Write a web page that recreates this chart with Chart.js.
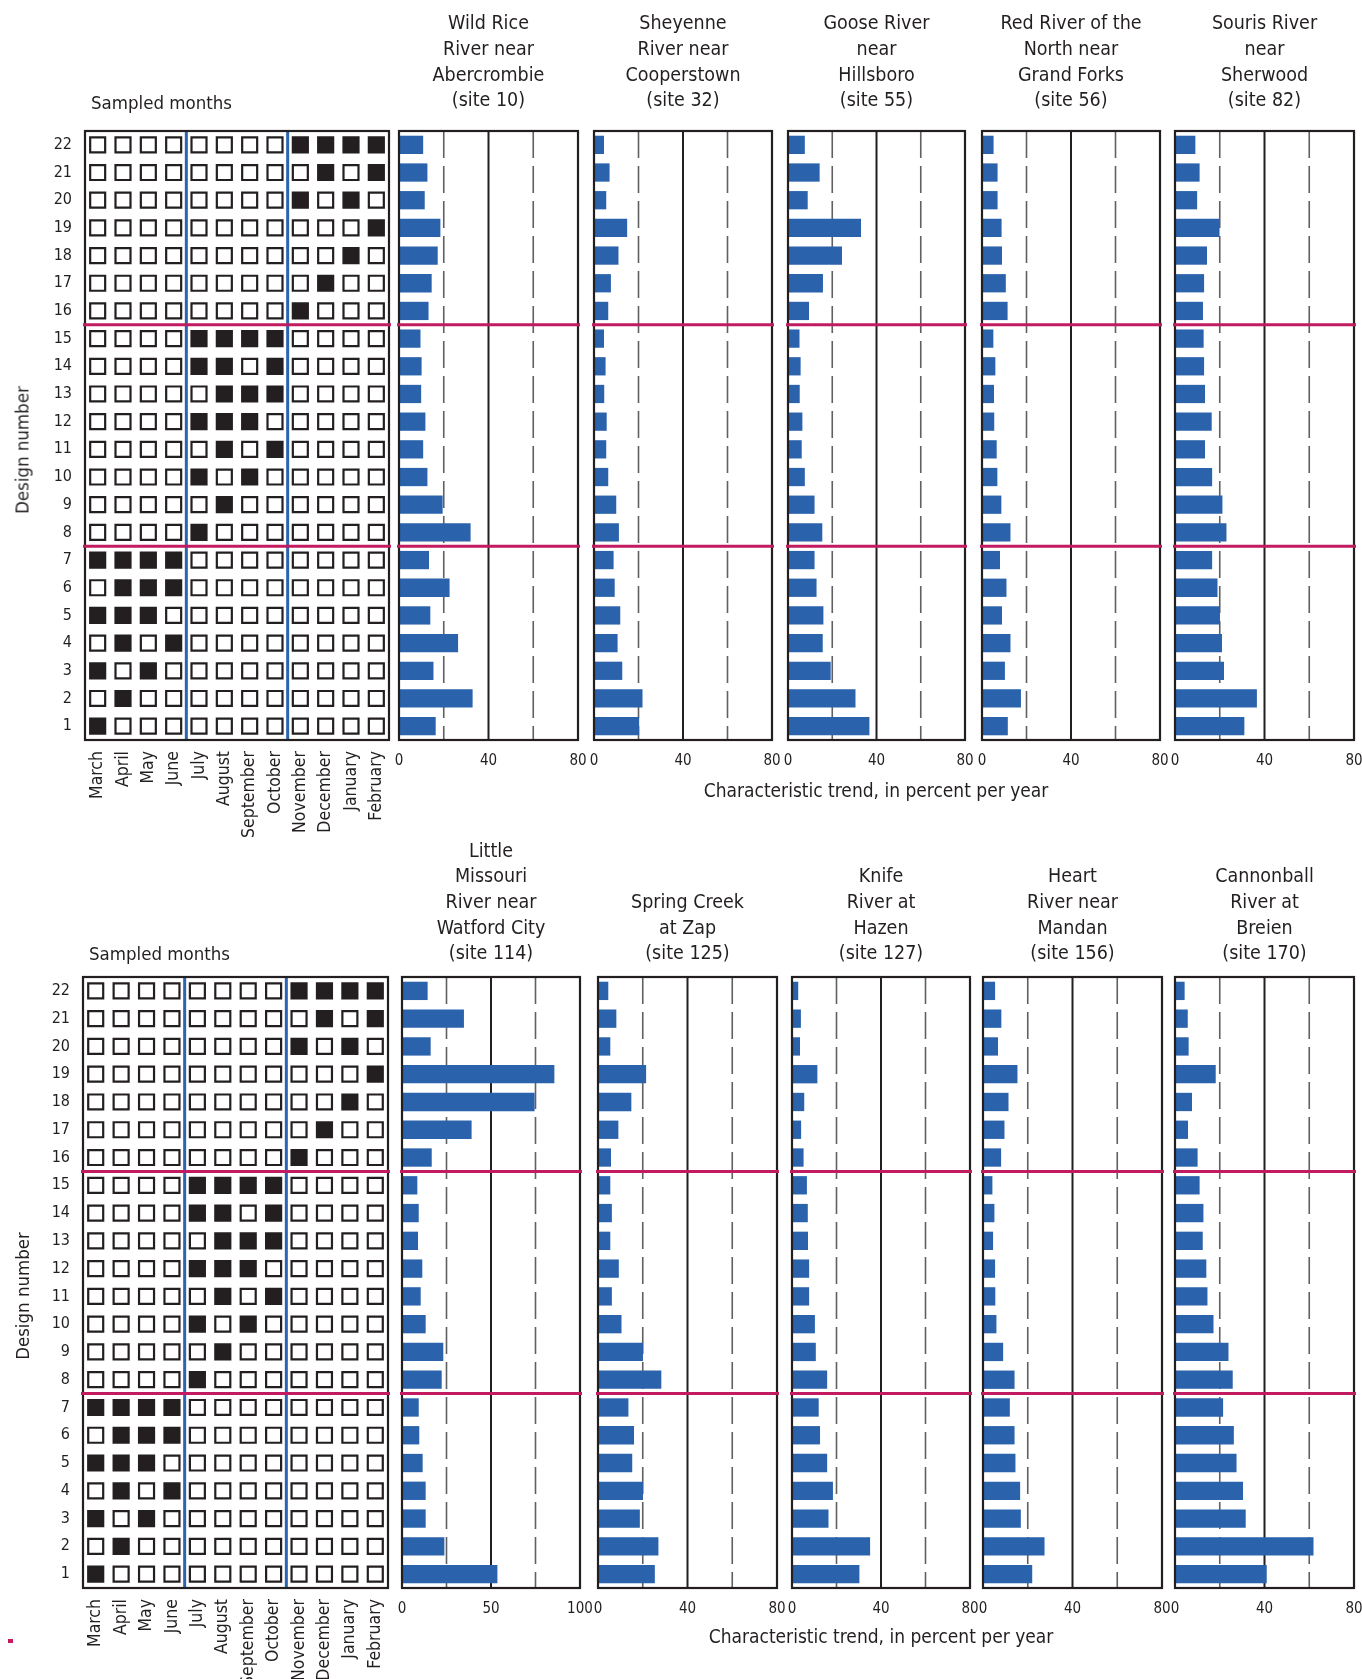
<!DOCTYPE html>
<html lang="en">
<head>
<meta charset="utf-8">
<title>Characteristic trend by sampling design</title>
<script src="https://cdn.jsdelivr.net/npm/chart.js@4.4.1/dist/chart.umd.min.js"></script>
<style>
  html, body { margin: 0; padding: 0; background: #fff; }
  body { position: relative; width: 1362px; height: 1679px; overflow: hidden;
         font-family: 'DejaVu Sans Condensed', 'Liberation Sans', sans-serif; color: #231f20; }
  canvas { position: absolute; }
  .lbl { position: absolute; white-space: nowrap; font-size: 19px; }
  .title { text-align: center; line-height: 25.6px; font-size: 19.5px; transform: translateX(-50%); }
  .mid { transform: translate(-50%, -50%); }
  .vert { font-size: 18.5px; transform: translate(-50%, -50%) rotate(-90deg); }
  .sampled { font-size: 18.5px; transform: translateY(-50%); }
  .tick { position: absolute; background: #c21b5f; }
</style>
</head>
<body>
<script>
const FONT = "'DejaVu Sans Condensed', 'Liberation Sans', sans-serif";
const INK = '#231f20';
const BAR_BLUE = '#2a62ac';
const SEASON_BLUE = '#2b64b0';
const RULE_RED = '#c21b5f';
const DASH_GREY = '#5f6062';

// Months of the sampling year
const months = ['March', 'April', 'May', 'June', 'July', 'August', 'September',
                'October', 'November', 'December', 'January', 'February'];

// Design numbers, top row first
const designs = ['22', '21', '20', '19', '18', '17', '16', '15', '14', '13', '12',
                 '11', '10', '9', '8', '7', '6', '5', '4', '3', '2', '1'];

// Months sampled under each design (design 1 first)
const sampledMonths = [
  ['March'],
  ['April'],
  ['March', 'May'],
  ['April', 'June'],
  ['March', 'April', 'May'],
  ['April', 'May', 'June'],
  ['March', 'April', 'May', 'June'],
  ['July'],
  ['August'],
  ['July', 'September'],
  ['August', 'October'],
  ['July', 'August', 'September'],
  ['August', 'September', 'October'],
  ['July', 'August', 'October'],
  ['July', 'August', 'September', 'October'],
  ['November'],
  ['December'],
  ['January'],
  ['February'],
  ['November', 'January'],
  ['December', 'February'],
  ['November', 'December', 'January', 'February']
];

// Red rules between design groups, blue rules between seasons
const groupBreaks = [['16', '15'], ['8', '7']];
const seasonBreaks = [['June', 'July'], ['October', 'November']];

// Labelled x-axis ticks
const ticks80 = [0, 40, 80];
const ticks100 = [0, 50, 100];

// Characteristic trend, in percent per year (design 1 first)
const trend10  = [16.4, 32.9, 15.4, 26.4, 14.0, 22.6, 13.4, 32.0, 19.5, 12.7, 10.8, 11.8, 9.9, 10.1, 9.6, 13.2, 14.6, 17.3, 18.5, 11.5, 12.7, 10.8];
const trend32  = [20.3, 21.8, 12.7, 10.6, 11.8, 9.3, 8.8, 11.2, 10.0, 6.4, 5.5, 5.7, 4.6, 5.2, 4.5, 6.4, 7.6, 11.0, 14.9, 5.5, 7.0, 4.5];
const trend55  = [36.8, 30.5, 19.3, 15.7, 16.0, 12.9, 12.0, 15.5, 12.0, 7.6, 6.2, 6.5, 5.3, 5.7, 5.2, 9.5, 15.8, 24.4, 33.0, 8.9, 14.3, 7.6];
const trend56  = [11.6, 17.5, 10.3, 12.8, 9.0, 11.0, 8.1, 12.8, 8.7, 6.9, 6.6, 5.5, 5.4, 6.0, 5.1, 11.5, 10.7, 9.0, 8.8, 7.0, 7.0, 5.2];
const trend82  = [31.0, 36.6, 21.9, 21.0, 20.1, 19.0, 16.6, 23.0, 21.2, 16.6, 13.4, 16.4, 13.4, 13.0, 12.8, 12.5, 13.0, 14.3, 19.9, 9.9, 11.0, 9.1];
const trend114 = [53.6, 23.8, 13.3, 13.3, 11.6, 9.7, 9.4, 22.3, 23.2, 13.3, 10.5, 11.4, 9.0, 9.4, 8.6, 16.7, 39.1, 74.5, 85.6, 16.1, 34.8, 14.4];
const trend125 = [25.4, 27.0, 18.7, 20.1, 15.3, 16.1, 13.6, 28.3, 20.1, 10.5, 6.2, 9.3, 5.5, 6.2, 5.5, 5.8, 9.1, 14.9, 21.5, 5.5, 8.2, 4.6];
const trend127 = [30.3, 35.1, 16.4, 18.4, 15.8, 12.6, 12.0, 15.8, 10.7, 10.3, 7.7, 7.7, 7.2, 7.1, 6.7, 5.2, 4.1, 5.5, 11.4, 3.6, 4.0, 2.8];
const trend156 = [22.0, 27.5, 16.9, 16.6, 14.5, 14.1, 12.0, 14.1, 9.0, 6.0, 5.5, 5.4, 4.5, 5.1, 4.2, 8.1, 9.6, 11.4, 15.4, 6.7, 8.2, 5.4];
const trend170 = [41.0, 61.9, 31.6, 30.4, 27.5, 26.3, 21.5, 25.8, 23.9, 17.2, 14.5, 14.0, 12.4, 12.7, 11.0, 10.1, 5.8, 7.6, 18.2, 6.1, 5.7, 4.3];

// Station names
const name10  = ['Wild Rice', 'River near', 'Abercrombie', '(site 10)'];
const name32  = ['Sheyenne', 'River near', 'Cooperstown', '(site 32)'];
const name55  = ['Goose River', 'near', 'Hillsboro', '(site 55)'];
const name56  = ['Red River of the', 'North near', 'Grand Forks', '(site 56)'];
const name82  = ['Souris River', 'near', 'Sherwood', '(site 82)'];
const name114 = ['Little', 'Missouri', 'River near', 'Watford City', '(site 114)'];
const name125 = ['Spring Creek', 'at Zap', '(site 125)'];
const name127 = ['Knife', 'River at', 'Hazen', '(site 127)'];
const name156 = ['Heart', 'River near', 'Mandan', '(site 156)'];
const name170 = ['Cannonball', 'River at', 'Breien', '(site 170)'];

// Page layout of the two figure rows
const rows = [
  { top: 131, bottom: 740, grid: [85, 389],
    panels: [[399, 578], [594, 772], [788, 965], [982, 1160], [1175, 1354]],
    series: [trend10, trend32, trend55, trend56, trend82],
    names: [name10, name32, name55, name56, name82],
    ticks: [ticks80, ticks80, ticks80, ticks80, ticks80],
    titleY: 100, sampledY: 101.7, axisTitle: [876, 790], designY: 450 },
  { top: 977, bottom: 1588, grid: [83, 388],
    panels: [[402, 580], [598, 777], [792, 970], [983, 1162], [1175, 1354]],
    series: [trend114, trend125, trend127, trend156, trend170],
    names: [name114, name125, name127, name156, name170],
    ticks: [ticks100, ticks80, ticks80, ticks80, ticks80],
    titleY: 953, sampledY: 953.3, axisTitle: [881, 1636], designY: 1296 }
];

Chart.defaults.font.family = FONT;
Chart.defaults.color = INK;

function addCanvas(left, top, width, height) {
  const cv = document.createElement('canvas');
  cv.width = width; cv.height = height;
  cv.style.left = left + 'px'; cv.style.top = top + 'px';
  cv.style.width = width + 'px'; cv.style.height = height + 'px';
  document.body.appendChild(cv);
  return cv;
}

function addText(html, cls, left, top) {
  const d = document.createElement('div');
  d.className = 'lbl ' + cls;
  d.innerHTML = html;
  d.style.left = left + 'px';
  d.style.top = top + 'px';
  document.body.appendChild(d);
  return d;
}

// Horizontal red rules between the design groups
function drawGroupRules(chart) {
  const { ctx, chartArea: a, scales: { y } } = chart;
  ctx.save();
  ctx.strokeStyle = RULE_RED;
  ctx.lineWidth = 3;
  groupBreaks.forEach(([above, below]) => {
    const py = (y.getPixelForValue(designs.indexOf(above)) + y.getPixelForValue(designs.indexOf(below))) / 2;
    ctx.beginPath();
    ctx.moveTo(a.left - 2, py);
    ctx.lineTo(a.right + 2, py);
    ctx.stroke();
  });
  ctx.restore();
}

function drawFrame(chart) {
  const { ctx, chartArea: a } = chart;
  ctx.save();
  ctx.strokeStyle = INK;
  ctx.lineWidth = 2.2;
  ctx.strokeRect(a.left, a.top, a.right - a.left, a.bottom - a.top);
  ctx.restore();
}

// One bar panel: trend for each design at one site
function trendPanel(box, top, bottom, values, ticks) {
  const padL = 32, padR = 32, padT = 30, axisH = 42;
  const cv = addCanvas(box[0] - padL, top - padT,
                       (box[1] - box[0]) + padL + padR, (bottom - top) + padT + axisH);
  const decor = {
    id: 'trendDecor',
    beforeDatasetsDraw(chart) {
      const { ctx, chartArea: a, scales: { x } } = chart;
      ctx.save();
      ctx.strokeStyle = DASH_GREY;
      ctx.lineWidth = 1.6;
      ctx.setLineDash([27, 8]);
      for (let i = 0; i < ticks.length - 1; i++) {
        const px = x.getPixelForValue((ticks[i] + ticks[i + 1]) / 2);
        ctx.beginPath(); ctx.moveTo(px, a.top); ctx.lineTo(px, a.bottom); ctx.stroke();
      }
      ctx.setLineDash([]);
      ctx.strokeStyle = INK;
      ctx.lineWidth = 2;
      ticks.slice(1, -1).forEach(v => {
        const px = x.getPixelForValue(v);
        ctx.beginPath(); ctx.moveTo(px, a.top); ctx.lineTo(px, a.bottom); ctx.stroke();
      });
      ctx.restore();
    },
    afterDatasetsDraw(chart) {
      drawFrame(chart);
      drawGroupRules(chart);
    }
  };
  new Chart(cv, {
    type: 'bar',
    data: {
      labels: designs,
      datasets: [{
        data: designs.map(d => values[Number(d) - 1]),
        backgroundColor: BAR_BLUE,
        borderWidth: 0,
        barPercentage: 0.66,
        categoryPercentage: 1
      }]
    },
    options: {
      indexAxis: 'y',
      responsive: false,
      animation: false,
      devicePixelRatio: 1,
      events: [],
      layout: { padding: { left: padL, right: padR, top: padT, bottom: 0 } },
      plugins: { legend: { display: false }, tooltip: { enabled: false } },
      scales: {
        x: {
          type: 'linear',
          min: ticks[0],
          max: ticks[ticks.length - 1],
          afterBuildTicks: s => { s.ticks = ticks.map(v => ({ value: v })); },
          afterFit: s => { s.height = axisH; },
          grid: { display: false, drawTicks: false },
          border: { display: false },
          ticks: { font: { size: 15 }, color: INK, padding: 12, maxRotation: 0, autoSkip: false }
        },
        y: { display: false, grid: { display: false } }
      }
    },
    plugins: [decor]
  });
}

// Grid of sampled months for each design
function monthGrid(box, top, bottom) {
  const padL = 10, axisW = 60, padT = 34, padR = 60, axisH = 112;
  const cv = addCanvas(box[0] - padL - axisW, top - padT,
                       (box[1] - box[0]) + padL + axisW + padR, (bottom - top) + padT + axisH);
  const cells = [];
  designs.forEach(d => months.forEach(m => {
    cells.push({ x: m, y: d, on: sampledMonths[Number(d) - 1].includes(m) });
  }));
  const decor = {
    id: 'gridDecor',
    afterDatasetsDraw(chart) {
      const { ctx, chartArea: a, scales: { x } } = chart;
      ctx.save();
      ctx.strokeStyle = SEASON_BLUE;
      ctx.lineWidth = 3;
      seasonBreaks.forEach(([before, after]) => {
        const px = (x.getPixelForValue(months.indexOf(before)) + x.getPixelForValue(months.indexOf(after))) / 2;
        ctx.beginPath(); ctx.moveTo(px, a.top); ctx.lineTo(px, a.bottom); ctx.stroke();
      });
      ctx.restore();
      drawFrame(chart);
      drawGroupRules(chart);
    }
  };
  new Chart(cv, {
    type: 'scatter',
    data: {
      datasets: [{
        data: cells,
        pointStyle: 'rect',
        pointRadius: 10.6,
        pointBorderWidth: 2.2,
        pointBorderColor: INK,
        pointBackgroundColor: c => (c.raw && c.raw.on) ? INK : '#ffffff'
      }]
    },
    options: {
      responsive: false,
      animation: false,
      devicePixelRatio: 1,
      events: [],
      layout: { padding: { left: padL, right: padR, top: padT, bottom: 0 } },
      plugins: { legend: { display: false }, tooltip: { enabled: false } },
      scales: {
        x: {
          type: 'category',
          labels: months,
          offset: true,
          afterFit: s => { s.height = axisH; },
          grid: { display: false, drawTicks: false },
          border: { display: false },
          ticks: { font: { size: 17.5 }, color: INK, padding: 11, minRotation: 90, maxRotation: 90, autoSkip: false }
        },
        y: {
          type: 'category',
          labels: designs,
          offset: true,
          afterFit: s => { s.width = axisW; },
          grid: { display: false, drawTicks: false },
          border: { display: false },
          ticks: { font: { size: 16 }, color: INK, padding: 13, autoSkip: false }
        }
      }
    },
    plugins: [decor]
  });
}

rows.forEach(r => {
  monthGrid(r.grid, r.top, r.bottom);
  r.panels.forEach((box, i) => {
    trendPanel(box, r.top, r.bottom, r.series[i], r.ticks[i]);
    const lines = r.names[i];
    addText(lines.join('<br>'), 'title', (box[0] + box[1]) / 2, r.titleY - (lines.length - 0.5) * 25.6);
  });
  addText('Sampled months', 'sampled', r.grid[0] + 6, r.sampledY);
  addText('Characteristic trend, in percent per year', 'mid', r.axisTitle[0], r.axisTitle[1]);
  addText('Design number', 'vert', 21.7, r.designY);
});

// small corner mark
const mark = document.createElement('div');
mark.className = 'tick';
mark.style.cssText = 'left:8px;top:1639px;width:5px;height:4px;';
document.body.appendChild(mark);
</script>
</body>
</html>
